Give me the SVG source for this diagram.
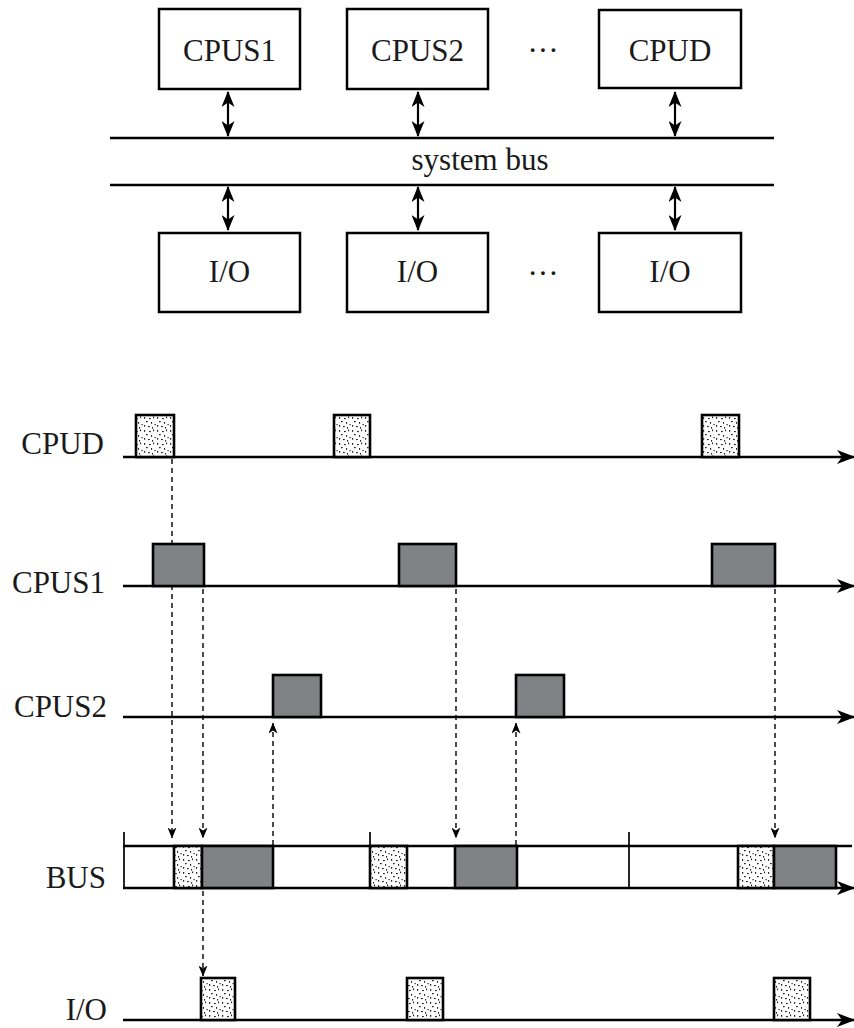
<svg xmlns="http://www.w3.org/2000/svg" width="854" height="1028" viewBox="0 0 854 1028">
<defs>
<style>
.box{fill:#fff;stroke:#000;stroke-width:2.5}
.lbl{font-family:"Liberation Serif","Times New Roman",serif;font-size:31px;fill:#1a1a1a}
.ctr{text-anchor:middle}
.end{text-anchor:end}
.line{stroke:#000;stroke-width:2.4;fill:none}
.axis{stroke:#000;stroke-width:2.4;fill:none;marker-end:url(#axhead)}
.dbl{stroke:#000;stroke-width:2.2;fill:none;marker-start:url(#dblhead);marker-end:url(#dblhead)}
.dashA{stroke:#000;stroke-width:1.4;fill:none;stroke-dasharray:5 4;marker-end:url(#smhead)}
.gray{fill:#818286;stroke:#000;stroke-width:2.6}
.stip{fill:url(#stipple);stroke:#000;stroke-width:2.6}
.tick{stroke:#000;stroke-width:1.7}
</style>
<pattern id="stipple" width="13" height="13" patternUnits="userSpaceOnUse">
<rect width="13" height="13" fill="#fff"/>
<g fill="#222">
<rect x="1" y="1" width="1.2" height="1.8"/>
<rect x="6" y="2" width="1.8" height="1.1"/>
<rect x="10" y="0.5" width="1.1" height="1.7"/>
<rect x="3" y="5" width="1.7" height="1.2"/>
<rect x="8" y="6" width="1.1" height="1.8"/>
<rect x="11.5" y="8" width="1.2" height="1.2"/>
<rect x="1" y="9" width="1.2" height="1.7"/>
<rect x="5" y="10" width="1.8" height="1.1"/>
<rect x="9" y="11" width="1.1" height="1.6"/>
</g>
</pattern>
<marker id="axhead" viewBox="0 0 18 14" refX="17" refY="7" markerWidth="18" markerHeight="14" markerUnits="userSpaceOnUse" orient="auto">
<path d="M0,0 L18,7 L0,14 L5,7 Z" fill="#000"/>
</marker>
<marker id="dblhead" viewBox="0 0 16 13" refX="15" refY="6.5" markerWidth="16" markerHeight="13" markerUnits="userSpaceOnUse" orient="auto-start-reverse">
<path d="M0,0 L16,6.5 L0,13 L4.5,6.5 Z" fill="#000"/>
</marker>
<marker id="smhead" viewBox="0 0 11 9" refX="10.5" refY="4.5" markerWidth="11" markerHeight="9" markerUnits="userSpaceOnUse" orient="auto">
<path d="M0,0 L11,4.5 L0,9 L3,4.5 Z" fill="#000"/>
</marker>
</defs>

<g id="connectors">
<line class="dbl" x1="228" y1="92" x2="228" y2="136"/>
<line class="dbl" x1="418" y1="92" x2="418" y2="136"/>
<line class="dbl" x1="675" y1="92" x2="675" y2="136"/>
<line class="dbl" x1="228" y1="187" x2="228" y2="230"/>
<line class="dbl" x1="418" y1="187" x2="418" y2="230"/>
<line class="dbl" x1="675" y1="187" x2="675" y2="230"/>
<line class="dashA" x1="172" y1="459" x2="172" y2="838"/>
<line class="dashA" x1="203" y1="589" x2="203" y2="838"/>
<line class="dashA" x1="203" y1="891" x2="203" y2="976"/>
<line class="dashA" x1="456" y1="589" x2="456" y2="838"/>
<line class="dashA" x1="775" y1="589" x2="775" y2="838"/>
<line class="dashA" x1="273" y1="845" x2="273" y2="723"/>
<line class="dashA" x1="516" y1="845" x2="516" y2="723"/>
</g>

<g id="cpus1"><rect class="box" x="159" y="9" width="141" height="80"/><text class="lbl ctr" x="229.5" y="61">CPUS1</text></g>
<g id="cpus2"><rect class="box" x="347" y="9" width="141" height="80"/><text class="lbl ctr" x="417.5" y="61">CPUS2</text></g>
<g id="dots-top"><text class="lbl ctr" x="543" y="61">···</text></g>
<g id="cpud"><rect class="box" x="599" y="10" width="142" height="78"/><text class="lbl ctr" x="670" y="61">CPUD</text></g>

<g id="system-bus">
<line class="line" x1="110" y1="138" x2="774" y2="138"/>
<line class="line" x1="110" y1="185" x2="774" y2="185"/>
<text class="lbl ctr" x="480" y="170">system bus</text>
</g>

<g id="io1"><rect class="box" x="159" y="233" width="141" height="79"/><text class="lbl ctr" x="229.5" y="282">I/O</text></g>
<g id="io2"><rect class="box" x="347" y="233" width="141" height="79"/><text class="lbl ctr" x="417.5" y="282">I/O</text></g>
<g id="dots-bottom"><text class="lbl ctr" x="543" y="284">···</text></g>
<g id="io3"><rect class="box" x="599" y="233" width="142" height="79"/><text class="lbl ctr" x="670" y="282">I/O</text></g>

<g id="row-cpud">
<text class="lbl end" x="104" y="454">CPUD</text>
<line class="axis" x1="123" y1="457" x2="854" y2="457"/>
<rect class="stip" x="136" y="415" width="38" height="42"/>
<rect class="stip" x="334" y="415" width="36" height="42"/>
<rect class="stip" x="702" y="415" width="37" height="42"/>
</g>

<g id="row-cpus1">
<text class="lbl end" x="105" y="593">CPUS1</text>
<line class="axis" x1="123" y1="586" x2="854" y2="586"/>
<rect class="gray" x="153" y="544" width="51" height="42"/>
<rect class="gray" x="399" y="544" width="57" height="42"/>
<rect class="gray" x="712" y="544" width="63" height="42"/>
</g>

<g id="row-cpus2">
<text class="lbl end" x="107" y="717">CPUS2</text>
<line class="axis" x1="123" y1="717" x2="854" y2="717"/>
<rect class="gray" x="273" y="675" width="48" height="42"/>
<rect class="gray" x="516" y="675" width="48" height="42"/>
</g>

<g id="row-bus">
<text class="lbl end" x="106" y="888">BUS</text>
<line class="line" x1="123" y1="846" x2="852" y2="846"/>
<line class="axis" x1="123" y1="888" x2="854" y2="888"/>
<line class="tick" x1="124" y1="832" x2="124" y2="888"/>
<line class="tick" x1="370" y1="832" x2="370" y2="888"/>
<line class="tick" x1="629" y1="832" x2="629" y2="888"/>
<rect class="stip" x="174" y="846" width="28" height="42"/>
<rect class="gray" x="202" y="846" width="71" height="42"/>
<rect class="stip" x="370" y="846" width="37" height="42"/>
<rect class="gray" x="455" y="846" width="62" height="42"/>
<rect class="stip" x="738" y="846" width="36" height="42"/>
<rect class="gray" x="774" y="846" width="62" height="42"/>
</g>

<g id="row-io">
<text class="lbl end" x="107" y="1020">I/O</text>
<line class="axis" x1="123" y1="1020" x2="854" y2="1020"/>
<rect class="stip" x="201" y="978" width="34" height="42"/>
<rect class="stip" x="407" y="978" width="36" height="42"/>
<rect class="stip" x="774" y="978" width="36" height="42"/>
</g>
</svg>
